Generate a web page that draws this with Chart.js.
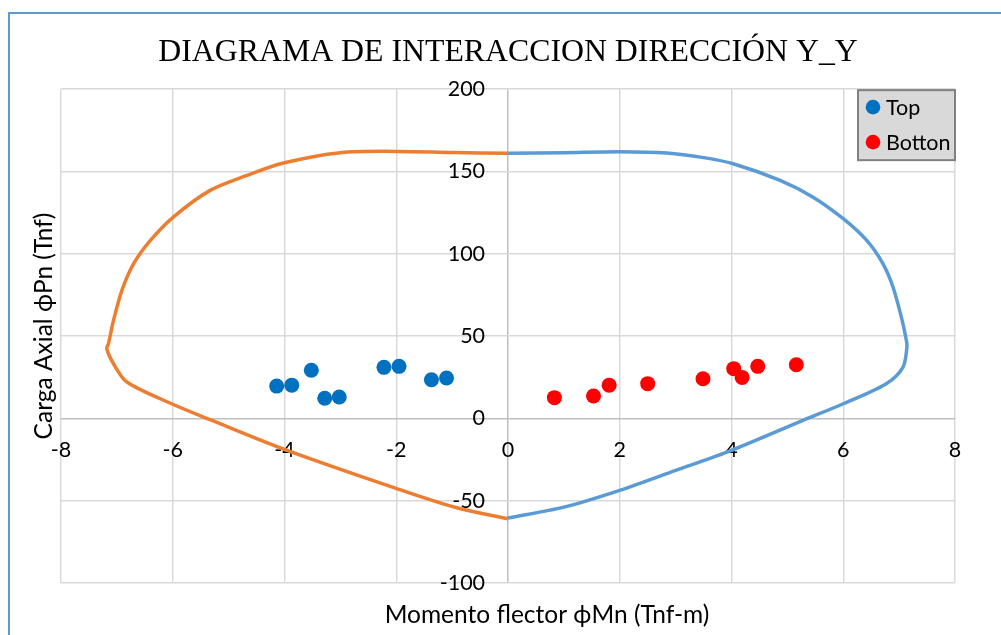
<!DOCTYPE html>
<html>
<head>
<meta charset="utf-8">
<script src="https://cdn.jsdelivr.net/npm/chart.js@4/dist/chart.umd.min.js"></script>
<style>
  html, body { margin: 0; padding: 0; background: #fff; }
  #wrap { position: relative; width: 1001px; height: 635px; overflow: hidden; }
  #frame { position: absolute; left: 8px; top: 12px; width: 1200px; height: 800px;
           border-left: 2px solid #5B9BD5; border-top: 2px solid #5B9BD5; pointer-events: none; }
  canvas { position: absolute; left: 0; top: 0; }
</style>
</head>
<body>
<div id="wrap">
  <div id="frame"></div>
  <canvas id="chart" width="1001" height="635"></canvas>
</div>
<script>
// Puntos de demanda (momento, carga)
const topX = [-4.14, -3.87, -3.52, -3.28, -3.02, -2.22, -1.95, -1.37, -1.10];
const topY = [19.6, 20.2, 29.2, 12.2, 13.0, 31.0, 31.6, 23.5, 24.5];
const botX = [0.83, 1.53, 1.81, 2.50, 3.49, 4.04, 4.19, 4.47, 5.16];
const botY = [12.6, 13.6, 20.2, 21.1, 24.1, 30.2, 24.9, 31.6, 32.6];

// Curva de interaccion, lado positivo (azul)
const posX = [0, 1, 2, 2.84, 3.5, 4.03, 4.87, 5.46, 6.0, 6.42, 6.71, 6.89, 7.04, 7.13, 7.14, 7.07, 6.77, 6.0, 5.28, 4.0, 3.0, 2.0, 1.0, 0];
const posY = [161, 161.4, 162, 161.2, 158.4, 154.7, 144.6, 134.4, 121.3, 108.1, 94, 79.8, 61.5, 47.4, 43.5, 31.2, 21.1, 8.9, -1.2, -19.4, -31.6, -43.7, -53.9, -60.5];

// Curva de interaccion, lado negativo (naranja)
const negX = [0, -1, -1.99, -3.0, -4.02, -4.67, -5.33, -5.99, -6.40, -6.70, -6.91, -7.06, -7.15, -7.18, -7.06, -6.82, -6.02, -5.33, -3.99, -1.99, -0.92, 0];
const negY = [161, 161.5, 162.2, 161.4, 155.1, 147.6, 138.5, 122.3, 108.1, 94, 77.8, 59.5, 45.4, 42.3, 33.2, 22.1, 8.9, -0.8, -19, -42.7, -54.3, -61];

const xTicks = [-8, -6, -4, -2, 0, 2, 4, 6, 8];
const yTicks = [-100, -50, 0, 50, 100, 150, 200];

const FONT = 'Lato, "Noto Sans", "DejaVu Sans", sans-serif';

function pts(xs, ys) {
    return xs.map((x, i) => ({ x: x, y: ys[i] }));
}

const gridColor = (ctx) => (ctx.tick && ctx.tick.value === 0) ? '#BFBFBF' : '#D9D9D9';

// Leyenda dentro del area del grafico, como en Excel
const boxLegend = {
    id: 'boxLegend',
    afterDraw(chart) {
        const c = chart.ctx;
        const ca = chart.chartArea;
        const items = chart.data.datasets.filter(d => !d.showLine);
        const w = 98, h = 71;
        const left = ca.right - w, top = ca.top;
        c.save();
        c.fillStyle = '#D9D9D9';
        c.fillRect(left, top, w, h);
        c.strokeStyle = '#808080';
        c.lineWidth = 2;
        c.strokeRect(left + 1, top + 1, w - 1, h - 1);
        c.font = '21.5px ' + FONT;
        c.textBaseline = 'middle';
        items.forEach((d, i) => {
            const cy = top + 18 + i * 35;
            c.fillStyle = d.backgroundColor;
            c.beginPath();
            c.arc(left + 16, cy, 7.3, 0, Math.PI * 2);
            c.fill();
            c.fillStyle = '#000';
            c.fillText(d.label, left + 29, cy + 1);
        });
        c.restore();
    }
};

// Titulos de ejes
const axisTitles = {
    id: 'axisTitles',
    afterDraw(chart) {
        const c = chart.ctx;
        c.save();
        c.fillStyle = '#000';
        c.font = '24.5px ' + FONT;
        c.textAlign = 'center';
        c.textBaseline = 'middle';
        c.fillText('Momento flector ϕMn (Tnf-m)', 547, 615);
        c.translate(44, 326);
        c.rotate(-Math.PI / 2);
        c.fillText('Carga Axial ϕPn (Tnf)', 0, 0);
        c.restore();
    }
};

new Chart(document.getElementById('chart'), {
    type: 'scatter',
    data: {
        datasets: [
            {
                label: 'Top',
                data: pts(topX, topY),
                backgroundColor: '#0070C0',
                borderWidth: 0,
                pointRadius: 7.5
            },
            {
                label: 'Botton',
                data: pts(botX, botY),
                backgroundColor: '#FF0000',
                borderWidth: 0,
                pointRadius: 7.5
            },
            {
                label: 'Diagrama +',
                data: pts(posX, posY),
                showLine: true,
                borderColor: '#5B9BD5',
                borderWidth: 3.5,
                pointRadius: 0,
                tension: 0.3
            },
            {
                label: 'Diagrama -',
                data: pts(negX, negY),
                showLine: true,
                borderColor: '#ED7D31',
                borderWidth: 3.5,
                pointRadius: 0,
                tension: 0.3
            }
        ]
    },
    options: {
        responsive: false,
        animation: false,
        layout: { padding: { left: 61, right: 46, top: 0, bottom: 52 } },
        plugins: {
            legend: { display: false },
            tooltip: { enabled: false },
            title: {
                display: true,
                text: 'DIAGRAMA DE INTERACCION DIRECCIÓN Y_Y',
                color: '#000',
                font: { family: '"Liberation Serif", "Times New Roman", serif', size: 31.8, weight: 'normal' },
                padding: { top: 34, bottom: 17 }
            }
        },
        scales: {
            x: {
                type: 'linear',
                position: { y: 0 },
                min: -8, max: 8,
                afterFit: (s) => { s.height = 0; },
                afterBuildTicks: (s) => { s.ticks = xTicks.map(v => ({ value: v })); },
                grid: { color: gridColor, lineWidth: 1.5, drawTicks: false },
                border: { display: false },
                ticks: { color: '#000', padding: 18.6, font: { family: FONT, size: 21.5 } }
            },
            y: {
                type: 'linear',
                // etiquetas separadas del eje vertical, como en Excel
                position: { x: -0.41 },
                min: -100, max: 200,
                afterFit: (s) => { s.width = 0; },
                afterBuildTicks: (s) => { s.ticks = yTicks.map(v => ({ value: v })); },
                grid: { color: gridColor, lineWidth: 1.5, drawTicks: false },
                border: { display: false },
                ticks: { color: '#000', font: { family: FONT, size: 21.5 } }
            }
        }
    },
    plugins: [boxLegend, axisTitles]
});
</script>
</body>
</html>
